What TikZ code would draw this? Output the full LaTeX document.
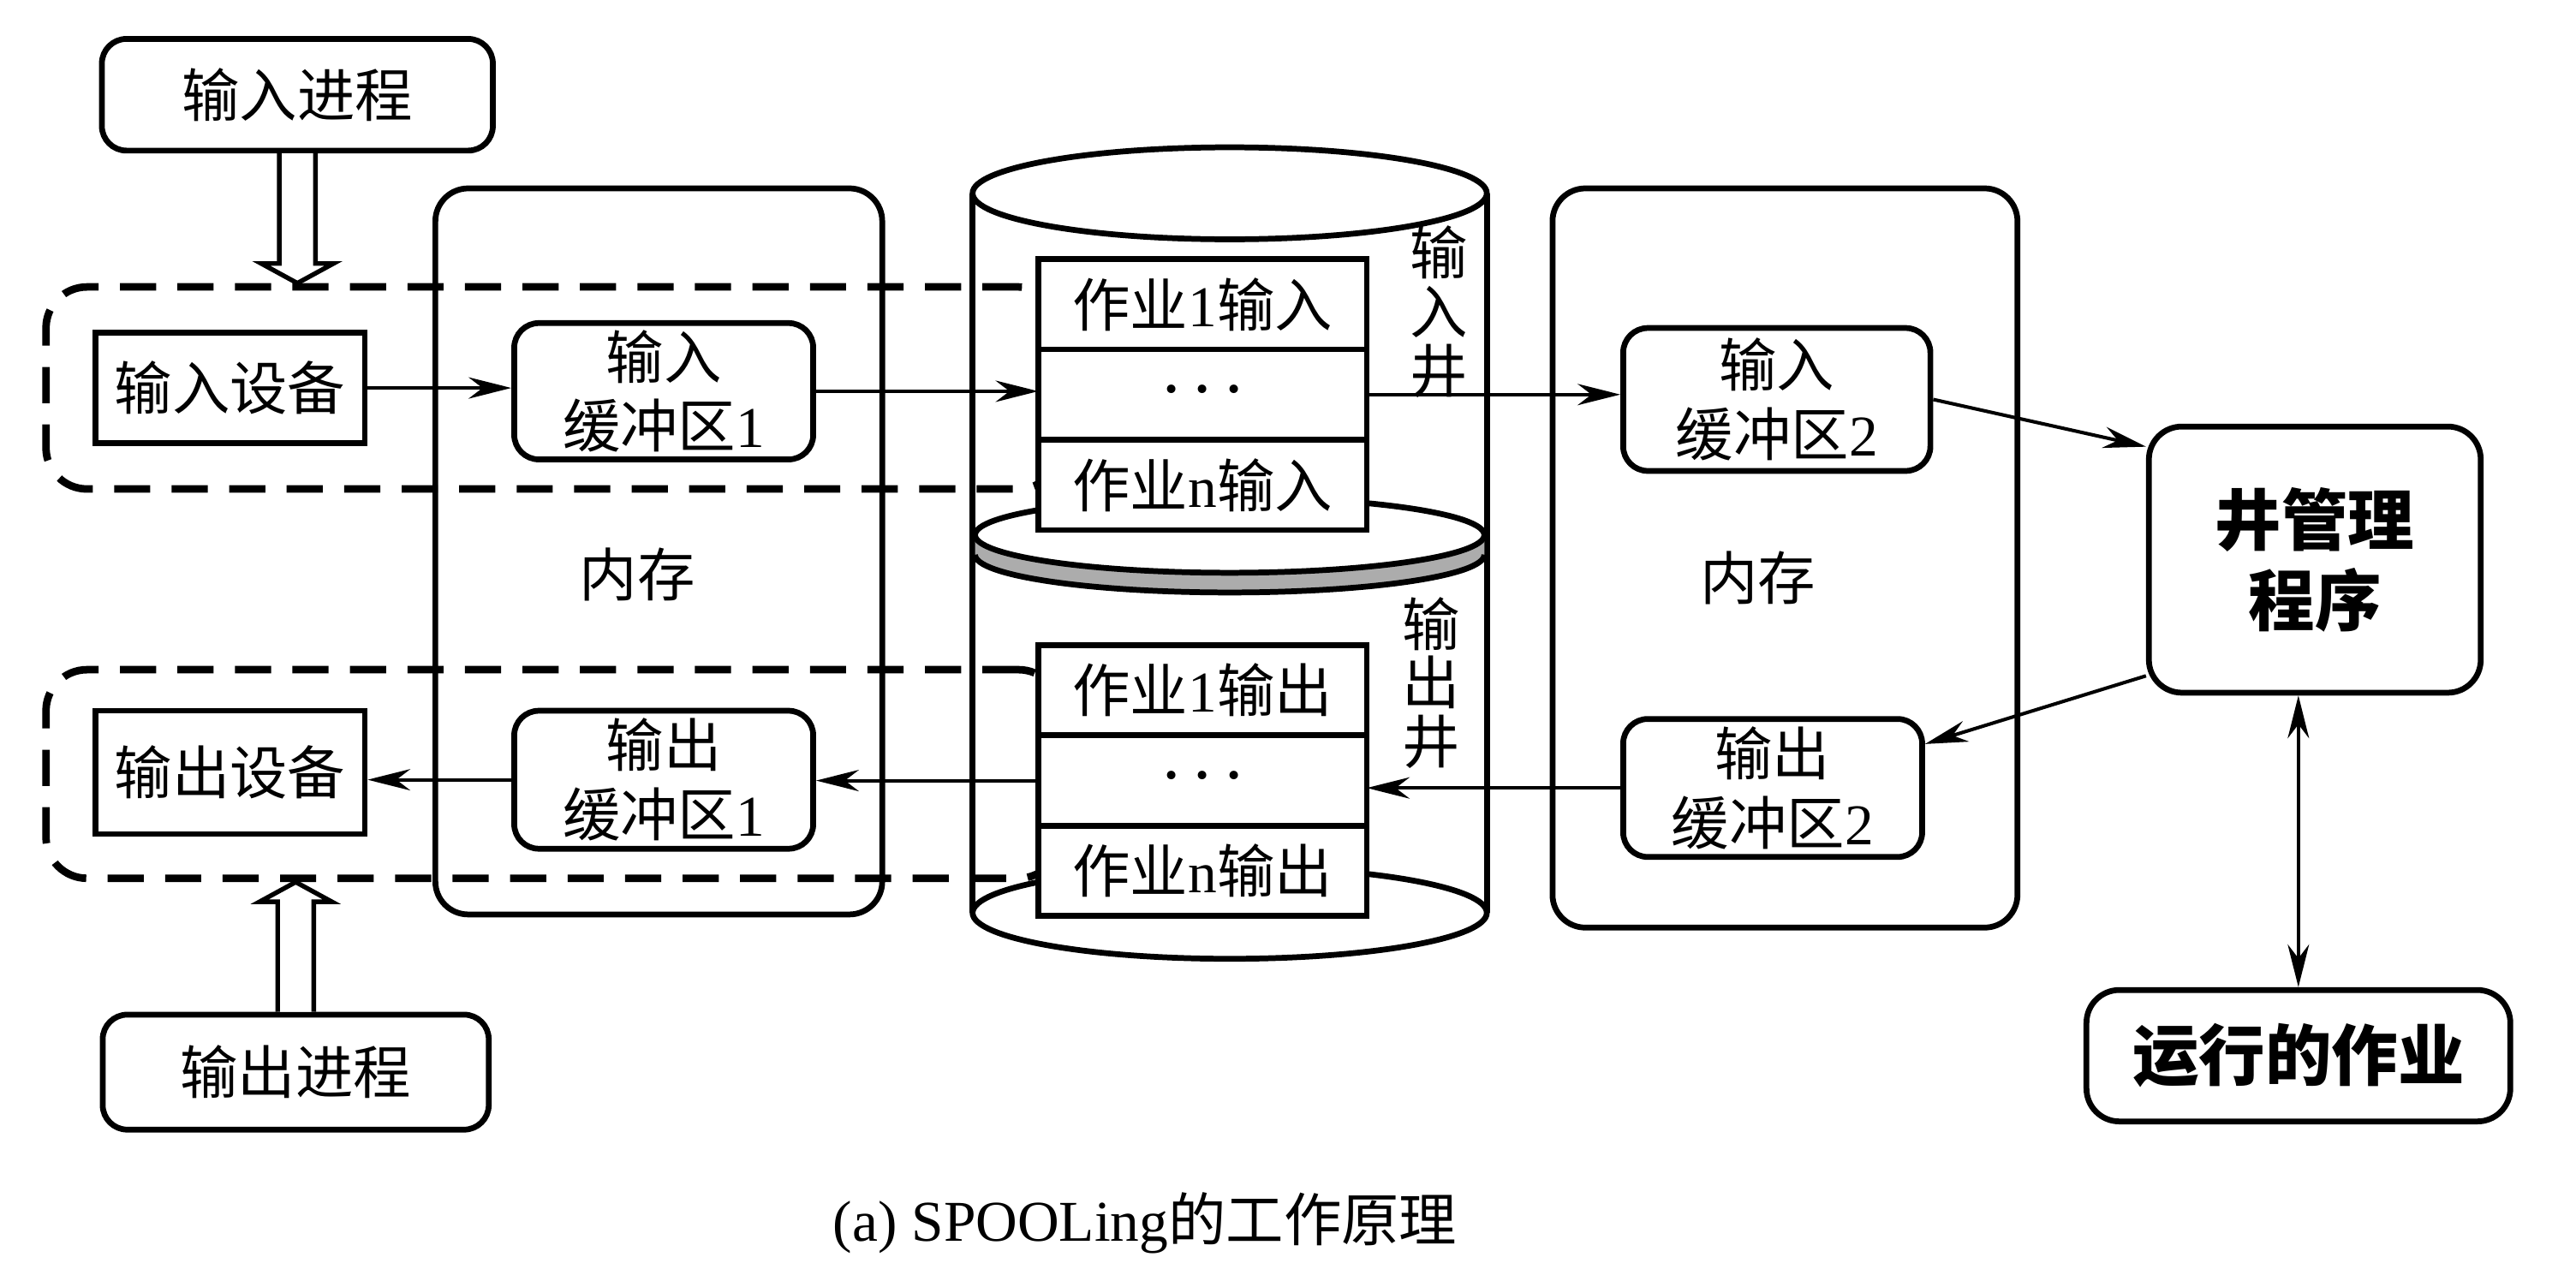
\documentclass[tikz,border=0pt]{standalone}
\usepackage{fontspec}
\setmainfont{Liberation Serif}
\newfontfamily\cjk{Noto Sans CJK SC}
\usetikzlibrary{arrows.meta}
\usetikzlibrary{positioning}
\usetikzlibrary{calc}

\newcommand{\slotdots}{{\scriptsize\textbullet\kern-1.6pt\textbullet\kern-1.6pt\textbullet}}

\begin{document}
\begin{tikzpicture}
  \tikzset{box/.style = {draw, line width=1pt, rounded corners=1.5mm, fill=white, align=center, inner sep=0pt, font=\cjk}}
  \tikzset{dev/.style = {box, sharp corners}}
  \tikzset{mem/.style = {draw, line width=1pt, rounded corners=2mm, inner sep=0pt}}
  \tikzset{area/.style = {draw, line width=1.3pt, dash pattern=on 2.2mm off 1.3mm, rounded corners=2.5mm, inner sep=0pt}}
  \tikzset{slot/.style = {draw, line width=1pt, fill=white, minimum width=2cm, minimum height=0.55cm, outer sep=0pt, inner sep=0pt, font=\cjk}}
  \tikzset{line/.style = {draw, ->, >={Stealth[length=2.6mm, width=1.3mm]}, line width=0.6pt}}
  \tikzset{hollow/.style = {draw, line width=0.8pt, fill=white}}
  \tikzset{disk/.style = {line width=1pt}}

  \useasboundingbox (0,0) rectangle (15.68,7.757);

  %%%%%%%%%%%% memory

  \node[mem, minimum width=2.72cm, minimum height=4.42cm] (memL) at (4.01,4.40) {};
  \node[font=\cjk] (memLtxt) at (3.88,4.26) {内存};
  \node[mem, minimum width=2.83cm, minimum height=4.50cm] (memR) at (10.865,4.36) {};
  \node[font=\cjk] (memRtxt) at (10.70,4.24) {内存};

  %%%%%%%%%%%% well (cylinder)

  \draw[disk] (7.485,6.58) ellipse (1.565 and 0.28);
  \draw[disk] (5.92,6.58) -- (5.92,2.20) (9.05,6.58) -- (9.05,2.20);
  \draw[disk] (7.485,2.20) ellipse (1.565 and 0.28);
  \fill[gray!65] (5.935,4.50) arc[start angle=180, end angle=360,
  x radius=1.55, y radius=0.23] -- (9.035,4.38) arc[start angle=0, end angle=-180, x radius=1.55,
  y radius=0.23] -- cycle;
  \draw[disk] (7.485,4.50) ellipse (1.55 and 0.23);
  \draw[disk] (5.935,4.38) arc[start angle=180, end angle=360, x radius=1.55, y radius=0.23];

  \node[align=center, font=\cjk\fontsize{10}{10.2}\selectfont] (inwell) at (8.76,5.86) {输\\入\\井};
  \node[align=center, font=\cjk\fontsize{10}{10.2}\selectfont] (outwell) at (8.71,3.60) {输\\出\\井};

  %%%%%%%%%%%% dashed areas

  \node[area, minimum width=6.17cm, minimum height=1.23cm] (inarea) at (3.365,5.395) {};
  \node[area, minimum width=6.17cm, minimum height=1.27cm] (outarea) at (3.365,3.045) {};

  %%%%%%%%%%%% processes and devices

  \node[box, minimum width=2.38cm, minimum height=0.68cm] (inproc) at (1.81,7.18) {输入进程};
  \node[box, minimum width=2.35cm, minimum height=0.70cm] (outproc) at (1.80,1.23) {输出进程};
  \node[dev, minimum width=1.64cm, minimum height=0.67cm] (indev) at (1.40,5.395) {输入设备};
  \node[dev, minimum width=1.64cm, minimum height=0.75cm] (outdev) at (1.40,3.055) {输出设备};

  \node[box, minimum width=1.82cm, minimum height=0.83cm] (inbuf1) at (4.04,5.375) {输入\\缓冲区\textrm{1}};
  \node[box, minimum width=1.82cm, minimum height=0.84cm] (outbuf1) at (4.04,3.01) {输出\\缓冲区\textrm{1}};
  \node[box, minimum width=1.87cm, minimum height=0.87cm] (inbuf2) at (10.815,5.325) {输入\\缓冲区\textrm{2}};
  \node[box, minimum width=1.82cm, minimum height=0.84cm] (outbuf2) at (10.79,2.96) {输出\\缓冲区\textrm{2}};

  \node[box, rounded corners=2mm, minimum width=2.02cm, minimum height=1.62cm,
  font=\cjk\bfseries\fontsize{11.5}{14}\selectfont] (wellmgr) at (14.09,4.35) {井管理\\程序};
  \node[box, rounded corners=2mm, minimum width=2.58cm, minimum height=0.80cm,
  font=\cjk\bfseries\fontsize{11.5}{14}\selectfont] (runjob) at (13.99,1.33) {运行的作业};

  %%%%%%%%%%%% job slots

  \node[slot] (injob1) at (7.32,5.905) {作业\textrm{1}输入};
  \node[slot, below=0pt of injob1] (injob2) {\slotdots};
  \node[slot, below=0pt of injob2] (injobn) {作业\textrm{n}输入};

  \node[slot] (outjob1) at (7.32,3.555) {作业\textrm{1}输出};
  \node[slot, below=0pt of outjob1] (outjob2) {\slotdots};
  \node[slot, below=0pt of outjob2] (outjobn) {作业\textrm{n}输出};

  %%%%%%%%%%%% hollow arrows

  \draw[hollow] let \p1=(inproc.south), \p2=(inarea.north) in
  (\x1-1.1mm,\y1) -- (\x1-1.1mm,\y2+1.2mm) -- (\x1-2.2mm,\y2+1.2mm) -- (\x1,\y2)
  -- (\x1+2.2mm,\y2+1.2mm) -- (\x1+1.1mm,\y2+1.2mm) -- (\x1+1.1mm,\y1);
  \draw[hollow] let \p1=(outproc.north), \p2=(outarea.south) in
  (\x1-1.1mm,\y1) -- (\x1-1.1mm,\y2-1.2mm) -- (\x1-2.2mm,\y2-1.2mm) -- (\x1,\y2)
  -- (\x1+2.2mm,\y2-1.2mm) -- (\x1+1.1mm,\y2-1.2mm) -- (\x1+1.1mm,\y1);

  %%%%%%%%%%%% flows

  \path[line] (indev.east) -- (indev.east -| inbuf1.west);
  \path[line] (inbuf1.east) -- (inbuf1.east -| injob2.west);
  \path[line] (injob2.east) -- (injob2.east -| inbuf2.west);
  \path[line] (inbuf2.east) -- ([yshift=-1.4mm]wellmgr.north west);
  \path[line] ([yshift=1.2mm]wellmgr.south west) -- ([yshift=-1.7mm]outbuf2.north east);
  \path[line] (outbuf2.west) -- (outbuf2.west -| outjob2.east);
  \path[line] (outjob2.west) -- (outjob2.west -| outbuf1.east);
  \path[line] (outbuf1.west) -- (outbuf1.west -| outdev.east);
  \path[line, <->] (runjob.north |- wellmgr.south) -- (runjob.north);

  \node (caption) at (6.97,0.31) {(a) SPOOLing{\cjk 的工作原理}};

\end{tikzpicture}
\end{document}
